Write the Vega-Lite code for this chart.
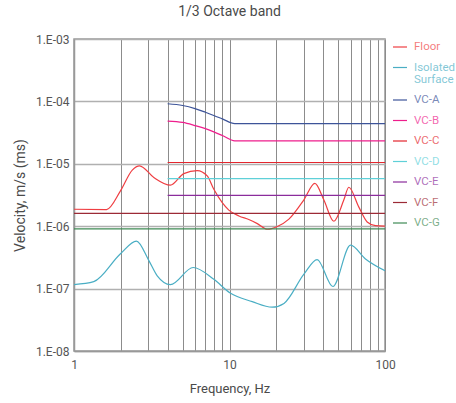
{
  "$schema": "https://vega.github.io/schema/vega-lite/v6.json",
  "autosize": "none",
  "width": 311,
  "height": 312,
  "padding": {"left": 74, "top": 39, "right": 71, "bottom": 52},
  "background": "white",
  "title": {"text": "1/3 Octave band", "fontSize": 14, "fontWeight": "normal", "color": "#4a4a4a", "font": "Roboto", "offset": 14},
  "config": {
    "font": "Roboto",
    "view": {"stroke": "#999999", "strokeWidth": 1.5},
    "axis": {"labelFont": "Roboto", "titleFont": "Roboto", "labelColor": "#555555", "titleColor": "#4a4a4a", "titleFontWeight": "normal", "ticks": false, "domainColor": "#999999", "domainWidth": 1.5}
  },
  "data": {"values": [
    {"s": "Floor", "f": 1, "v": 1.87e-6},
    {"s": "Floor", "f": 1.62, "v": 1.85e-6},
    {"s": "Floor", "f": 1.99, "v": 3.69e-6},
    {"s": "Floor", "f": 2.37, "v": 7.94e-6},
    {"s": "Floor", "f": 2.64, "v": 9.27e-6},
    {"s": "Floor", "f": 3.26, "v": 6.04e-6},
    {"s": "Floor", "f": 4.17, "v": 4.54e-6},
    {"s": "Floor", "f": 5.08, "v": 6.97e-6},
    {"s": "Floor", "f": 6.2, "v": 7.79e-6},
    {"s": "Floor", "f": 7.19, "v": 6.4e-6},
    {"s": "Floor", "f": 7.93, "v": 3.9e-6},
    {"s": "Floor", "f": 8.98, "v": 2.38e-6},
    {"s": "Floor", "f": 9.9, "v": 1.81e-6},
    {"s": "Floor", "f": 11.5, "v": 1.46e-6},
    {"s": "Floor", "f": 13.3, "v": 1.28e-6},
    {"s": "Floor", "f": 15.1, "v": 1.1e-6},
    {"s": "Floor", "f": 17.5, "v": 8.93e-7},
    {"s": "Floor", "f": 20.3, "v": 9.9e-7},
    {"s": "Floor", "f": 24.1, "v": 1.3e-6},
    {"s": "Floor", "f": 30.1, "v": 2.65e-6},
    {"s": "Floor", "f": 35.4, "v": 4.85e-6},
    {"s": "Floor", "f": 40.4, "v": 2.65e-6},
    {"s": "Floor", "f": 46.9, "v": 1.2e-6},
    {"s": "Floor", "f": 54.4, "v": 2.65e-6},
    {"s": "Floor", "f": 58.5, "v": 4.21e-6},
    {"s": "Floor", "f": 67.9, "v": 2.02e-6},
    {"s": "Floor", "f": 76.8, "v": 1.17e-6},
    {"s": "Floor", "f": 86.9, "v": 1.02e-6},
    {"s": "Floor", "f": 100, "v": 1.0e-6},
    {"s": "Isolated Surface", "f": 1, "v": 1.16e-7},
    {"s": "Isolated Surface", "f": 1.34, "v": 1.29e-7},
    {"s": "Isolated Surface", "f": 1.99, "v": 3.61e-7},
    {"s": "Isolated Surface", "f": 2.52, "v": 5.76e-7},
    {"s": "Isolated Surface", "f": 3.03, "v": 2.81e-7},
    {"s": "Isolated Surface", "f": 3.43, "v": 1.6e-7},
    {"s": "Isolated Surface", "f": 4.17, "v": 1.16e-7},
    {"s": "Isolated Surface", "f": 5.84, "v": 2.18e-7},
    {"s": "Isolated Surface", "f": 7.93, "v": 1.41e-7},
    {"s": "Isolated Surface", "f": 10.1, "v": 8.49e-8},
    {"s": "Isolated Surface", "f": 14, "v": 6.18e-8},
    {"s": "Isolated Surface", "f": 18.8, "v": 5.03e-8},
    {"s": "Isolated Surface", "f": 22.4, "v": 5.79e-8},
    {"s": "Isolated Surface", "f": 30.1, "v": 1.7e-7},
    {"s": "Isolated Surface", "f": 36.6, "v": 2.92e-7},
    {"s": "Isolated Surface", "f": 46.2, "v": 1.08e-7},
    {"s": "Isolated Surface", "f": 60, "v": 4.96e-7},
    {"s": "Isolated Surface", "f": 74.9, "v": 2.99e-7},
    {"s": "Isolated Surface", "f": 100, "v": 1.93e-7},
    {"s": "VC-A", "f": 4, "v": 9.17e-5},
    {"s": "VC-A", "f": 5, "v": 8.6e-5},
    {"s": "VC-A", "f": 6, "v": 7.68e-5},
    {"s": "VC-A", "f": 7, "v": 6.7e-5},
    {"s": "VC-A", "f": 8, "v": 5.89e-5},
    {"s": "VC-A", "f": 9.06, "v": 5.2e-5},
    {"s": "VC-A", "f": 10.8, "v": 4.42e-5},
    {"s": "VC-A", "f": 100, "v": 4.42e-5},
    {"s": "VC-B", "f": 4, "v": 4.83e-5},
    {"s": "VC-B", "f": 5, "v": 4.6e-5},
    {"s": "VC-B", "f": 6, "v": 4.1e-5},
    {"s": "VC-B", "f": 7, "v": 3.66e-5},
    {"s": "VC-B", "f": 8, "v": 3.22e-5},
    {"s": "VC-B", "f": 9.06, "v": 2.81e-5},
    {"s": "VC-B", "f": 10.8, "v": 2.33e-5},
    {"s": "VC-B", "f": 100, "v": 2.33e-5},
    {"s": "VC-C", "f": 4, "v": 1.05e-5},
    {"s": "VC-C", "f": 100, "v": 1.05e-5},
    {"s": "VC-D", "f": 4, "v": 5.79e-6},
    {"s": "VC-D", "f": 100, "v": 5.79e-6},
    {"s": "VC-E", "f": 4, "v": 3.13e-6},
    {"s": "VC-E", "f": 100, "v": 3.13e-6},
    {"s": "VC-F", "f": 1, "v": 1.61e-6},
    {"s": "VC-F", "f": 100, "v": 1.61e-6},
    {"s": "VC-G", "f": 1, "v": 9.06e-7},
    {"s": "VC-G", "f": 100, "v": 9.06e-7}
  ]},
  "mark": {"type": "line", "interpolate": "monotone", "clip": true},
  "encoding": {
    "x": {
      "field": "f", "type": "quantitative",
      "scale": {"type": "log", "domain": [1, 100], "nice": false},
      "axis": {
        "title": "Frequency, Hz", "titleFontSize": 13, "titlePadding": 12,
        "values": [1, 2, 3, 4, 5, 6, 7, 8, 9, 10, 20, 30, 40, 50, 60, 70, 80, 90, 100],
        "labelExpr": "(datum.value == 1 || datum.value == 10 || datum.value == 100) ? format(datum.value, 'd') : ''",
        "labelFontSize": 12, "labelPadding": 8, "labelFlush": false, "labelOverlap": false,
        "gridColor": "#8c8c8c", "gridWidth": 1, "gridOpacity": 1
      }
    },
    "y": {
      "field": "v", "type": "quantitative",
      "scale": {"type": "log", "domain": [1e-8, 1e-3], "nice": false},
      "axis": {
        "title": "Velocity, m/s (ms)", "titleFontSize": 14, "titlePadding": 8,
        "values": [1e-8, 1e-7, 1e-6, 1e-5, 1e-4, 1e-3],
        "labelExpr": "'1.E-0' + format(-log(datum.value) / LN10, '.0f')",
        "labelFontSize": 12, "labelPadding": 5, "labelFlush": false,
        "gridColor": "#b0b0b0", "gridWidth": 1.5, "gridOpacity": 1
      }
    },
    "color": {
      "field": "s", "type": "nominal",
      "scale": {
        "domain": ["Floor", "Isolated Surface", "VC-A", "VC-B", "VC-C", "VC-D", "VC-E", "VC-F", "VC-G"],
        "range": ["#ef3e42", "#4aaec4", "#3d5499", "#ee1e8c", "#e3262e", "#5fd0d8", "#8b2c9c", "#9c2a36", "#3f8a55"]
      },
      "legend": {
        "title": null, "orient": "right", "offset": 7,
        "symbolType": "stroke", "symbolSize": 196, "symbolStrokeWidth": 1.5,
        "labelFontSize": 11.5, "labelOffset": 6, "rowPadding": 6.5,
        "labelExpr": "datum.label == 'Isolated Surface' ? ['Isolated', 'Surface'] : datum.label",
        "labelLimit": 60,
        "encode": {"labels": {"update": {"fill": {"scale": "color", "field": "value"}, "fillOpacity": {"value": 0.7}, "lineHeight": {"value": 12}}}}
      }
    },
    "strokeWidth": {
      "field": "s", "type": "nominal",
      "scale": {
        "domain": ["Floor", "Isolated Surface", "VC-A", "VC-B", "VC-C", "VC-D", "VC-E", "VC-F", "VC-G"],
        "range": [1.2, 1.2, 1.5, 1.5, 2, 1.5, 1.5, 1.5, 1.5]
      },
      "legend": null
    }
  }
}
